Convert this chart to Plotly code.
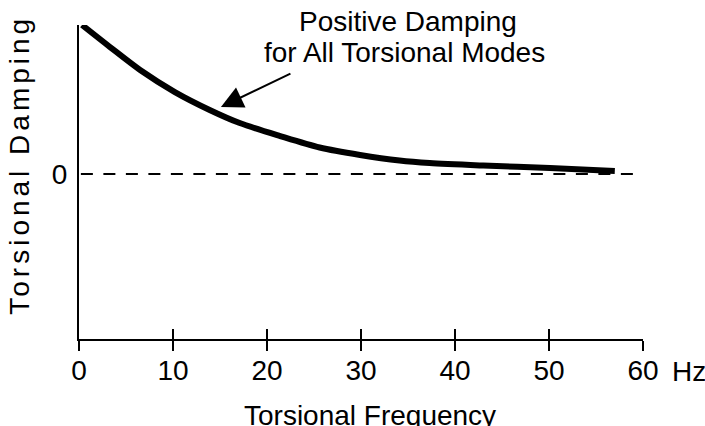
import plotly.graph_objects as go

# Data
freq_hz = [0.32, 3.3, 6.5, 10.2, 13.9, 17.1, 21.4, 25.6, 29.9, 34.1, 37.3, 43.0, 50.1, 57.0]
damping = [1.0, 0.852, 0.698, 0.550, 0.430, 0.342, 0.255, 0.178, 0.128, 0.091, 0.074, 0.057, 0.040, 0.020]
zero_x = [0.2, 59.0]
zero_y = [0, 0]
x_ticks = [0, 10, 20, 30, 40, 50, 60]
y_ticks = [0]
x_range = [0, 60]
y_range = [-1.107, 1.0]
arrow_tip = (15.1, 0.45)

FONT = "Liberation Sans, Arial, sans-serif"
FS = 28

fig = go.Figure()
fig.add_trace(go.Scatter(x=zero_x, y=zero_y, mode="lines",
                         line=dict(color="black", width=2, dash="12px,10.5px"),
                         hoverinfo="skip", showlegend=False))
fig.add_trace(go.Scatter(x=freq_hz, y=damping, mode="lines",
                         line=dict(color="black", width=6, shape="spline", smoothing=0.8),
                         showlegend=False))
# invisible trace on the overlay axis to activate it
fig.add_trace(go.Scatter(x=zero_x, y=zero_y, xaxis="x2", mode="lines",
                         line=dict(color="rgba(0,0,0,0)"), hoverinfo="skip", showlegend=False))

fig.update_layout(
    width=705, height=426,
    margin=dict(l=79, r=62, t=25, b=87),
    paper_bgcolor="white", plot_bgcolor="white",
    font=dict(family=FONT, size=FS, color="black"),
    xaxis=dict(range=x_range, tickvals=x_ticks, ticks="outside", ticklen=10,
               tickwidth=2, tickcolor="black", showline=True, linewidth=2,
               linecolor="black", showgrid=False, zeroline=False,
               tickfont=dict(size=FS), ticklabelstandoff=-5, fixedrange=True),
    xaxis2=dict(range=x_range, overlaying="x", tickvals=x_ticks[1:], ticks="inside",
                ticklen=10, tickwidth=2, tickcolor="black", showticklabels=False,
                showline=False, showgrid=False, zeroline=False, side="bottom",
                fixedrange=True),
    yaxis=dict(range=y_range, tickvals=y_ticks, ticks="outside", ticklen=4,
               tickcolor="rgba(0,0,0,0)", showline=True, linewidth=2,
               linecolor="black", showgrid=False, zeroline=False,
               tickfont=dict(size=FS), fixedrange=True),
)

fig.add_annotation(text="Positive Damping", xref="paper", yref="paper",
                   x=0.583, y=1.0096, xanchor="center", yanchor="middle",
                   showarrow=False, font=dict(size=FS))
fig.add_annotation(text="for All Torsional Modes", xref="paper", yref="paper",
                   x=0.578, y=0.914, xanchor="center", yanchor="middle",
                   showarrow=False, font=dict(size=FS))
fig.add_annotation(text="", x=arrow_tip[0], y=arrow_tip[1], xref="x", yref="y",
                   ax=71, ay=-34, showarrow=True, arrowhead=2, arrowsize=2.2,
                   arrowwidth=2, arrowcolor="black", standoff=0)
fig.add_annotation(text="Hz", xref="paper", yref="paper", x=1, y=0,
                   xanchor="left", yanchor="middle", xshift=27, yshift=-32,
                   showarrow=False, font=dict(size=FS))
fig.add_annotation(text="Torsional Frequency", xref="paper", yref="paper",
                   x=0.516, y=0, xanchor="center", yanchor="top", yshift=-59,
                   showarrow=False, font=dict(size=FS))
fig.add_annotation(text='<span style="letter-spacing:4px">Torsional Damping</span>',
                   xref="paper", yref="paper",
                   x=0, y=0.555, xanchor="center", yanchor="middle", xshift=-59,
                   textangle=-90, showarrow=False, font=dict(size=FS))

fig.write_html("out.html")
